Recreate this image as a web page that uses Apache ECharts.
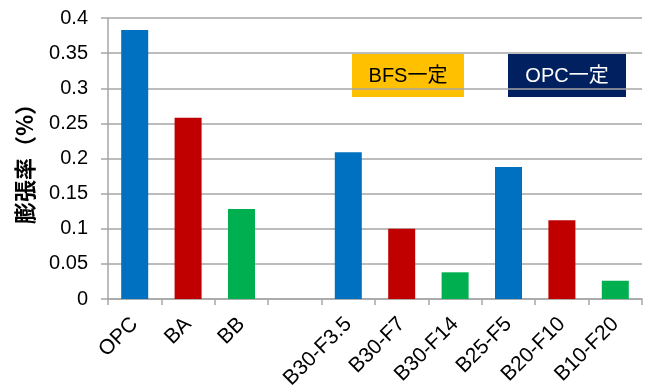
<!DOCTYPE html>
<html>
<head>
<meta charset="utf-8">
<script src="https://cdn.jsdelivr.net/npm/echarts@6/dist/echarts.min.js"></script>
<style>
  html, body { margin: 0; padding: 0; background: #fff; }
  #chart { width: 653px; height: 392px; }
</style>
</head>
<body>
<div id="chart"></div>
<script>
// Expansion rate per mix; the empty category separates the two groups
const categories = ['OPC', 'BA', 'BB', '', 'B30-F3.5', 'B30-F7', 'B30-F14', 'B25-F5', 'B20-F10', 'B10-F20'];
const expansion = [0.383, 0.258, 0.128, null, 0.209, 0.100, 0.038, 0.188, 0.112, 0.026];
const barColors = ['#0070C0', '#C00000', '#00B050', '#FFFFFF', '#0070C0', '#C00000', '#00B050', '#0070C0', '#C00000', '#00B050'];
const yTicks = { min: 0, max: 0.4, interval: 0.05 };
const yName = '膨張率（%）';
const notes = ['BFS一定', 'OPC一定'];

const chart = echarts.init(document.getElementById('chart'), null, { renderer: 'canvas' });
const font = 'Liberation Sans, Arial, "Noto Sans CJK JP", sans-serif';

chart.setOption({
  animation: false,
  backgroundColor: '#ffffff',
  grid: { left: 108, right: 11, top: 18, bottom: 93, containLabel: false, outerBoundsMode: 'none' },
  xAxis: {
    type: 'category',
    data: categories,
    axisLine: { show: true, lineStyle: { color: '#A6A6A6', width: 1.5 } },
    axisTick: { show: true, length: 6, alignWithLabel: false, lineStyle: { color: '#A6A6A6', width: 1.5 } },
    axisLabel: {
      rotate: 45, margin: 22, interval: 0,
      color: '#000', fontSize: 21, fontFamily: font
    }
  },
  yAxis: {
    type: 'value',
    min: yTicks.min, max: yTicks.max, interval: yTicks.interval,
    name: yName,
    nameLocation: 'middle',
    nameGap: 72,
    nameRotate: 90,
    nameTextStyle: { color: '#000', fontSize: 22, fontWeight: 'bold', fontFamily: '"Noto Sans CJK JP", sans-serif' },
    axisLine: { show: true, lineStyle: { color: '#A6A6A6', width: 1.5 } },
    axisTick: { show: true, inside: false, length: 7, lineStyle: { color: '#A6A6A6', width: 1.5 } },
    axisLabel: {
      color: '#000', fontSize: 20, fontFamily: font, margin: 20,
      formatter: v => String(parseFloat(v.toFixed(2)))
    },
    splitLine: { show: true, lineStyle: { color: '#A6A6A6', width: 1.5 } }
  },
  series: [{
    type: 'bar',
    barWidth: 27,
    data: expansion.map((v, i) => ({ value: v, itemStyle: { color: barColors[i] } }))
  }],
  graphic: [
    {
      type: 'group', left: 352, top: 54,
      children: [
        { type: 'rect', shape: { x: 0, y: 0, width: 112, height: 43 }, style: { fill: '#FFC000' } },
        { type: 'text', x: 56, y: 22, style: { text: notes[0], fill: '#000', fontSize: 20, fontFamily: font, align: 'center', verticalAlign: 'middle' } }
      ]
    },
    {
      type: 'group', left: 508, top: 54,
      children: [
        { type: 'rect', shape: { x: 0, y: 0, width: 118, height: 43 }, style: { fill: '#002060' } },
        { type: 'text', x: 59, y: 22, style: { text: notes[1], fill: '#fff', fontSize: 20, fontFamily: font, align: 'center', verticalAlign: 'middle' } }
      ]
    }
  ]
});
</script>
</body>
</html>
